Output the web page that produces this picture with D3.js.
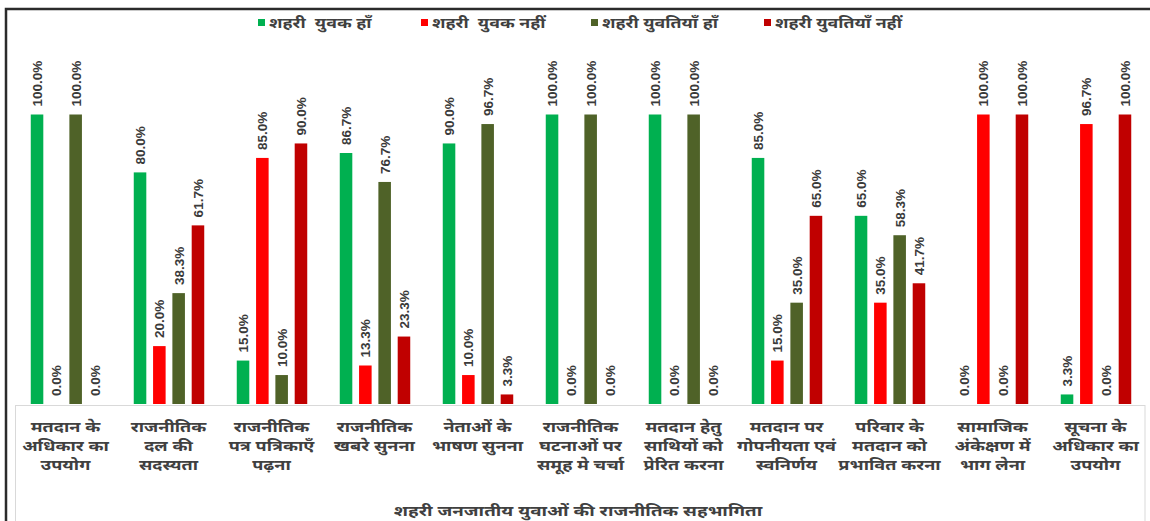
<!DOCTYPE html>
<html>
<head>
<meta charset="utf-8">
<script src="https://cdn.jsdelivr.net/npm/d3@7"></script>
<style>
  html, body { margin: 0; padding: 0; background: #fff; }
  svg { display: block; font-family: "Noto Sans", "DejaVu Sans", sans-serif; }
</style>
</head>
<body>
<svg id="chart" width="1150" height="521"></svg>
<script>
// ---- data ----
const categories = [
  ["मतदान के", "अधिकार का", "उपयोग"],
  ["राजनीतिक", "दल की", "सदस्यता"],
  ["राजनीतिक", "पत्र पत्रिकाएँ", "पढ़ना"],
  ["राजनीतिक", "खबरे सुनना"],
  ["नेताओं के", "भाषण सुनना"],
  ["राजनीतिक", "घटनाओं पर", "समूह मे चर्चा"],
  ["मतदान हेतु", "साथियों को", "प्रेरित करना"],
  ["मतदान पर", "गोपनीयता एवं", "स्वनिर्णय"],
  ["परिवार के", "मतदान को", "प्रभावित करना"],
  ["सामाजिक", "अंकेक्षण में", "भाग लेना"],
  ["सूचना के", "अधिकार का", "उपयोग"]
];
const seriesNames = ["शहरी  युवक हाँ", "शहरी  युवक नहीं", "शहरी युवतियाँ हाँ", "शहरी युवतियाँ नहीं"];
const yuvakHaan     = [100, 80, 15, 86.7, 90, 100, 100, 85, 65, 0, 3.3];
const yuvakNahin    = [0, 20, 85, 13.3, 10, 0, 0, 15, 35, 100, 96.7];
const yuvatiyanHaan = [100, 38.3, 10, 76.7, 96.7, 100, 100, 35, 58.3, 0, 0];
const yuvatiyanNahin= [0, 61.7, 90, 23.3, 3.3, 0, 0, 65, 41.7, 100, 100];
const axisTitle = "शहरी जनजातीय युवाओं की राजनीतिक सहभागिता";

const seriesValues = [yuvakHaan, yuvakNahin, yuvatiyanHaan, yuvatiyanNahin];
const colors = ["#00B050", "#FF0000", "#4F6228", "#C00000"];

// ---- layout ----
const svg = d3.select("#chart");

// outer frame
svg.append("rect").attr("x", 6).attr("y", 9).attr("width", 1160).attr("height", 530)
  .attr("fill", "none").attr("stroke", "#2b2b2b").attr("stroke-width", 2.5);

// label box
svg.append("rect").attr("x", 15.5).attr("y", 405.5).attr("width", 1129.5).attr("height", 130)
  .attr("fill", "none").attr("stroke", "#d9d9d9").attr("stroke-width", 1);

const idx = categories.map((d, i) => i);
const x0 = d3.scaleBand().domain(idx).range([14, 1147]).padding(0);
const x1 = d3.scaleBand().domain(d3.range(4)).range([10, 94]).padding(0.35);
const y = d3.scaleLinear().domain([0, 100]).range([404, 114.5]);

const groups = svg.append("g").selectAll("g.grp").data(idx).join("g")
  .attr("class", "grp")
  .attr("transform", i => `translate(${x0(i)},0)`);

groups.each(function (i) {
  const sel = d3.select(this);
  const vals = seriesValues.map((s, k) => ({ k, v: s[i] }));
  sel.selectAll("rect").data(vals).join("rect")
    .attr("x", d => x1(d.k))
    .attr("width", x1.bandwidth())
    .attr("y", d => y(d.v))
    .attr("height", d => y(0) - y(d.v))
    .attr("fill", d => colors[d.k]);
  sel.selectAll("text").data(vals).join("text")
    .attr("transform", d => `translate(${x1(d.k) + x1.bandwidth() / 2 + 5},${y(d.v) - 8}) rotate(-90)`)
    .attr("text-anchor", "start")
    .attr("font-family", "'Liberation Sans', Arial, sans-serif")
    .attr("font-weight", "bold")
    .attr("font-size", 13.5)
    .attr("fill", "#3a3a3a")
    .text(d => d.v.toFixed(1) + "%");
});

// category labels (horizontally stretched to mimic the wide original face)
const catG = svg.append("g");
categories.forEach((lines, i) => {
  const cx = x0(i) + x0.bandwidth() / 2;
  const t = catG.append("text")
    .attr("transform", `translate(${cx},432) scale(1.25,1)`)
    .attr("text-anchor", "middle")
    .attr("font-size", 14.5)
    .attr("font-weight", "bold")
    .attr("fill", "#404040");
  lines.forEach((ln, j) => {
    t.append("tspan").attr("x", 0).attr("y", j * 19).text(ln);
  });
});

// axis title
svg.append("text")
  .attr("transform", "translate(578,516) scale(1.3,1)")
  .attr("text-anchor", "middle")
  .attr("font-size", 14.5).attr("font-weight", "bold").attr("fill", "#404040").text(axisTitle);

// legend
const legendX = [258, 421, 591, 764];
const lg = svg.append("g");
seriesNames.forEach((name, k) => {
  lg.append("rect").attr("x", legendX[k]).attr("y", 19).attr("width", 7).attr("height", 7).attr("fill", colors[k]);
  lg.append("text")
    .attr("transform", `translate(${legendX[k] + 11},28) scale(1.27,1)`)
    .attr("font-size", 14)
    .attr("font-weight", "bold").attr("fill", "#404040").attr("xml:space", "preserve").text(name);
});
</script>
</body>
</html>
